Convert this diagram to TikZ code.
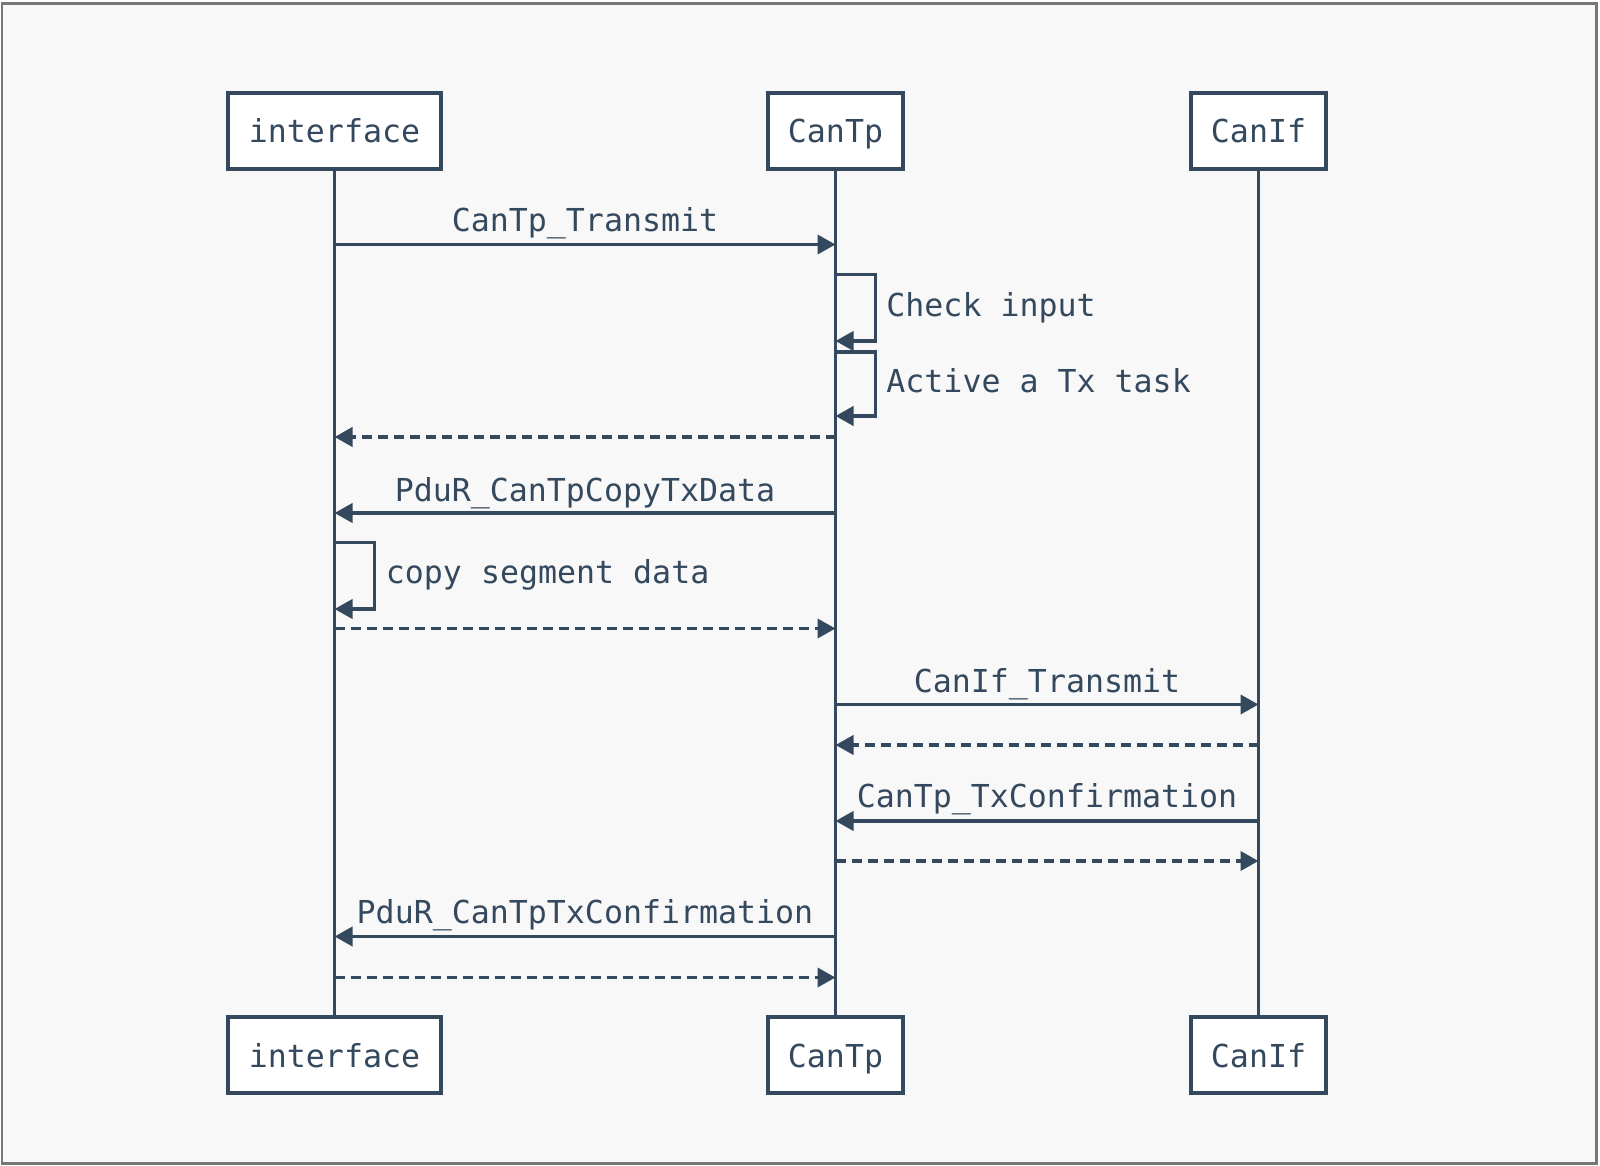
\documentclass[tikz,border=0pt]{standalone}
\usepackage{fontspec}
\setmainfont{DejaVu Sans Mono}
\usetikzlibrary{arrows.meta}
\definecolor{ink}{HTML}{34495E}
\definecolor{bgc}{HTML}{F8F8F8}
\definecolor{framec}{HTML}{777777}
\begin{document}
\begin{tikzpicture}[x=0.5pt,y=-0.5pt,
  font=\fontsize{15.8pt}{19pt}\selectfont, text=ink,
  actor/.style={draw=ink, line width=2pt, fill=white, minimum height=38pt,
    inner sep=0pt, text height=12.5pt, text depth=0.5pt},
  wide/.style={minimum width=106.5pt},
  narrow/.style={minimum width=67.5pt},
  life/.style={draw=ink, line width=1.8pt},
  msg/.style={draw=ink, line width=1.9pt, -{Triangle[length=9pt,width=9.5pt]}},
  ret/.style={msg, dash pattern=on 5pt off 3pt},
  lbl/.style={anchor=base, inner sep=0pt},
  slbl/.style={anchor=base west, inner sep=0pt}]
\useasboundingbox (0,0) rectangle (1600,1166);
\fill[white] (0,0) rectangle (1600,1166);
\draw[framec, line width=1.25pt, fill=bgc] (2.2,3.3) rectangle (1596.4,1163.3);

% actors
\node[actor, wide]   (ti) at (334.5,131) {interface};
\node[actor, narrow] (tp) at (835.5,131) {CanTp};
\node[actor, narrow] (tf) at (1258.5,131) {CanIf};
\node[actor, wide]   (bi) at (334.5,1055) {interface};
\node[actor, narrow] (bp) at (835.5,1055) {CanTp};
\node[actor, narrow] (bf) at (1258.5,1055) {CanIf};

% lifelines
\draw[life] (ti.south) -- (bi.north);
\draw[life] (tp.south) -- (bp.north);
\draw[life] (tf.south) -- (bf.north);

% message endpoints
\coordinate (m1a) at (ti.south |- 0,244.5);
\coordinate (m1b) at (tp.south |- 0,244.5);
\coordinate (s1a) at (tp.south |- 0,274.5);
\coordinate (s1b) at (tp.south |- 0,341);
\coordinate (s2a) at (tp.south |- 0,352);
\coordinate (s2b) at (tp.south |- 0,416);
\coordinate (r1a) at (tp.south |- 0,437);
\coordinate (r1b) at (ti.south |- 0,437);
\coordinate (m2a) at (tp.south |- 0,513);
\coordinate (m2b) at (ti.south |- 0,513);
\coordinate (s3a) at (ti.south |- 0,542.5);
\coordinate (s3b) at (ti.south |- 0,609);
\coordinate (r2a) at (ti.south |- 0,628.5);
\coordinate (r2b) at (tp.south |- 0,628.5);
\coordinate (m3a) at (tp.south |- 0,704.5);
\coordinate (m3b) at (tf.south |- 0,704.5);
\coordinate (r3a) at (tf.south |- 0,745);
\coordinate (r3b) at (tp.south |- 0,745);
\coordinate (m4a) at (tf.south |- 0,821);
\coordinate (m4b) at (tp.south |- 0,821);
\coordinate (r4a) at (tp.south |- 0,861);
\coordinate (r4b) at (tf.south |- 0,861);
\coordinate (m5a) at (tp.south |- 0,936.5);
\coordinate (m5b) at (ti.south |- 0,936.5);
\coordinate (r5a) at (ti.south |- 0,977.5);
\coordinate (r5b) at (tp.south |- 0,977.5);

% messages
\draw[msg] (m1a) -- (m1b);
\node[lbl] (l1) at (585,232) {CanTp\_Transmit};
\draw[msg] (s1a) -- ++(40,0) |- (s1b);
\node[slbl] (l2) at (886,316) {Check input};
\draw[msg] (s2a) -- ++(40,0) |- (s2b);
\node[slbl] (l3) at (886,392) {Active a Tx task};
\draw[ret] (r1a) -- (r1b);
\draw[msg] (m2a) -- (m2b);
\node[lbl] (l4) at (585,501) {PduR\_CanTpCopyTxData};
\draw[msg] (s3a) -- ++(40,0) |- (s3b);
\node[slbl] (l5) at (385.5,583) {copy segment data};
\draw[ret] (r2a) -- (r2b);
\draw[msg] (m3a) -- (m3b);
\node[lbl] (l6) at (1047,692) {CanIf\_Transmit};
\draw[ret] (r3a) -- (r3b);
\draw[msg] (m4a) -- (m4b);
\node[lbl] (l7) at (1047,807.5) {CanTp\_TxConfirmation};
\draw[ret] (r4a) -- (r4b);
\draw[msg] (m5a) -- (m5b);
\node[lbl] (l8) at (585,923.5) {PduR\_CanTpTxConfirmation};
\draw[ret] (r5a) -- (r5b);
\end{tikzpicture}
\end{document}
